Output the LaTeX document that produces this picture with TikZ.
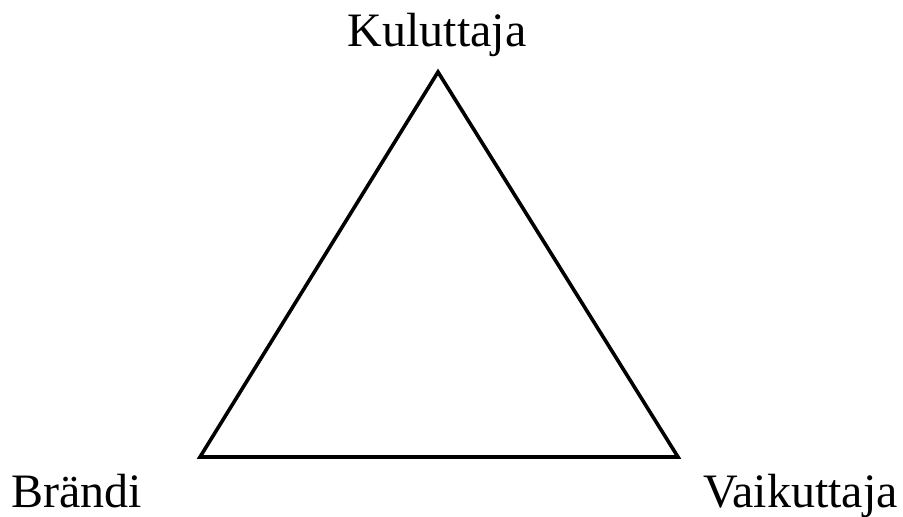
\documentclass[tikz,border=0pt]{standalone}
\usepackage{fontspec}
\setmainfont{Liberation Serif}

\begin{document}
\begin{tikzpicture}[x=1pt,y=1pt,font=\fontsize{48}{56}\selectfont,
  lbl/.style={inner sep=0pt,anchor=base}]
\useasboundingbox (0,0) rectangle (903,517);
\coordinate (top) at (438,445);
\coordinate (left) at (200,60);
\coordinate (right) at (678,60);
\draw[line width=3.6pt,line join=miter] (top)--(left)--(right)--cycle;
\node[lbl] (kuluttaja) at (437,470) {Kuluttaja};
\node[lbl,anchor=base west] (brandi) at (11,9) {Brändi};
\node[lbl,anchor=base east] (vaikuttaja) at (898,9) {Vaikuttaja};
\end{tikzpicture}
\end{document}
